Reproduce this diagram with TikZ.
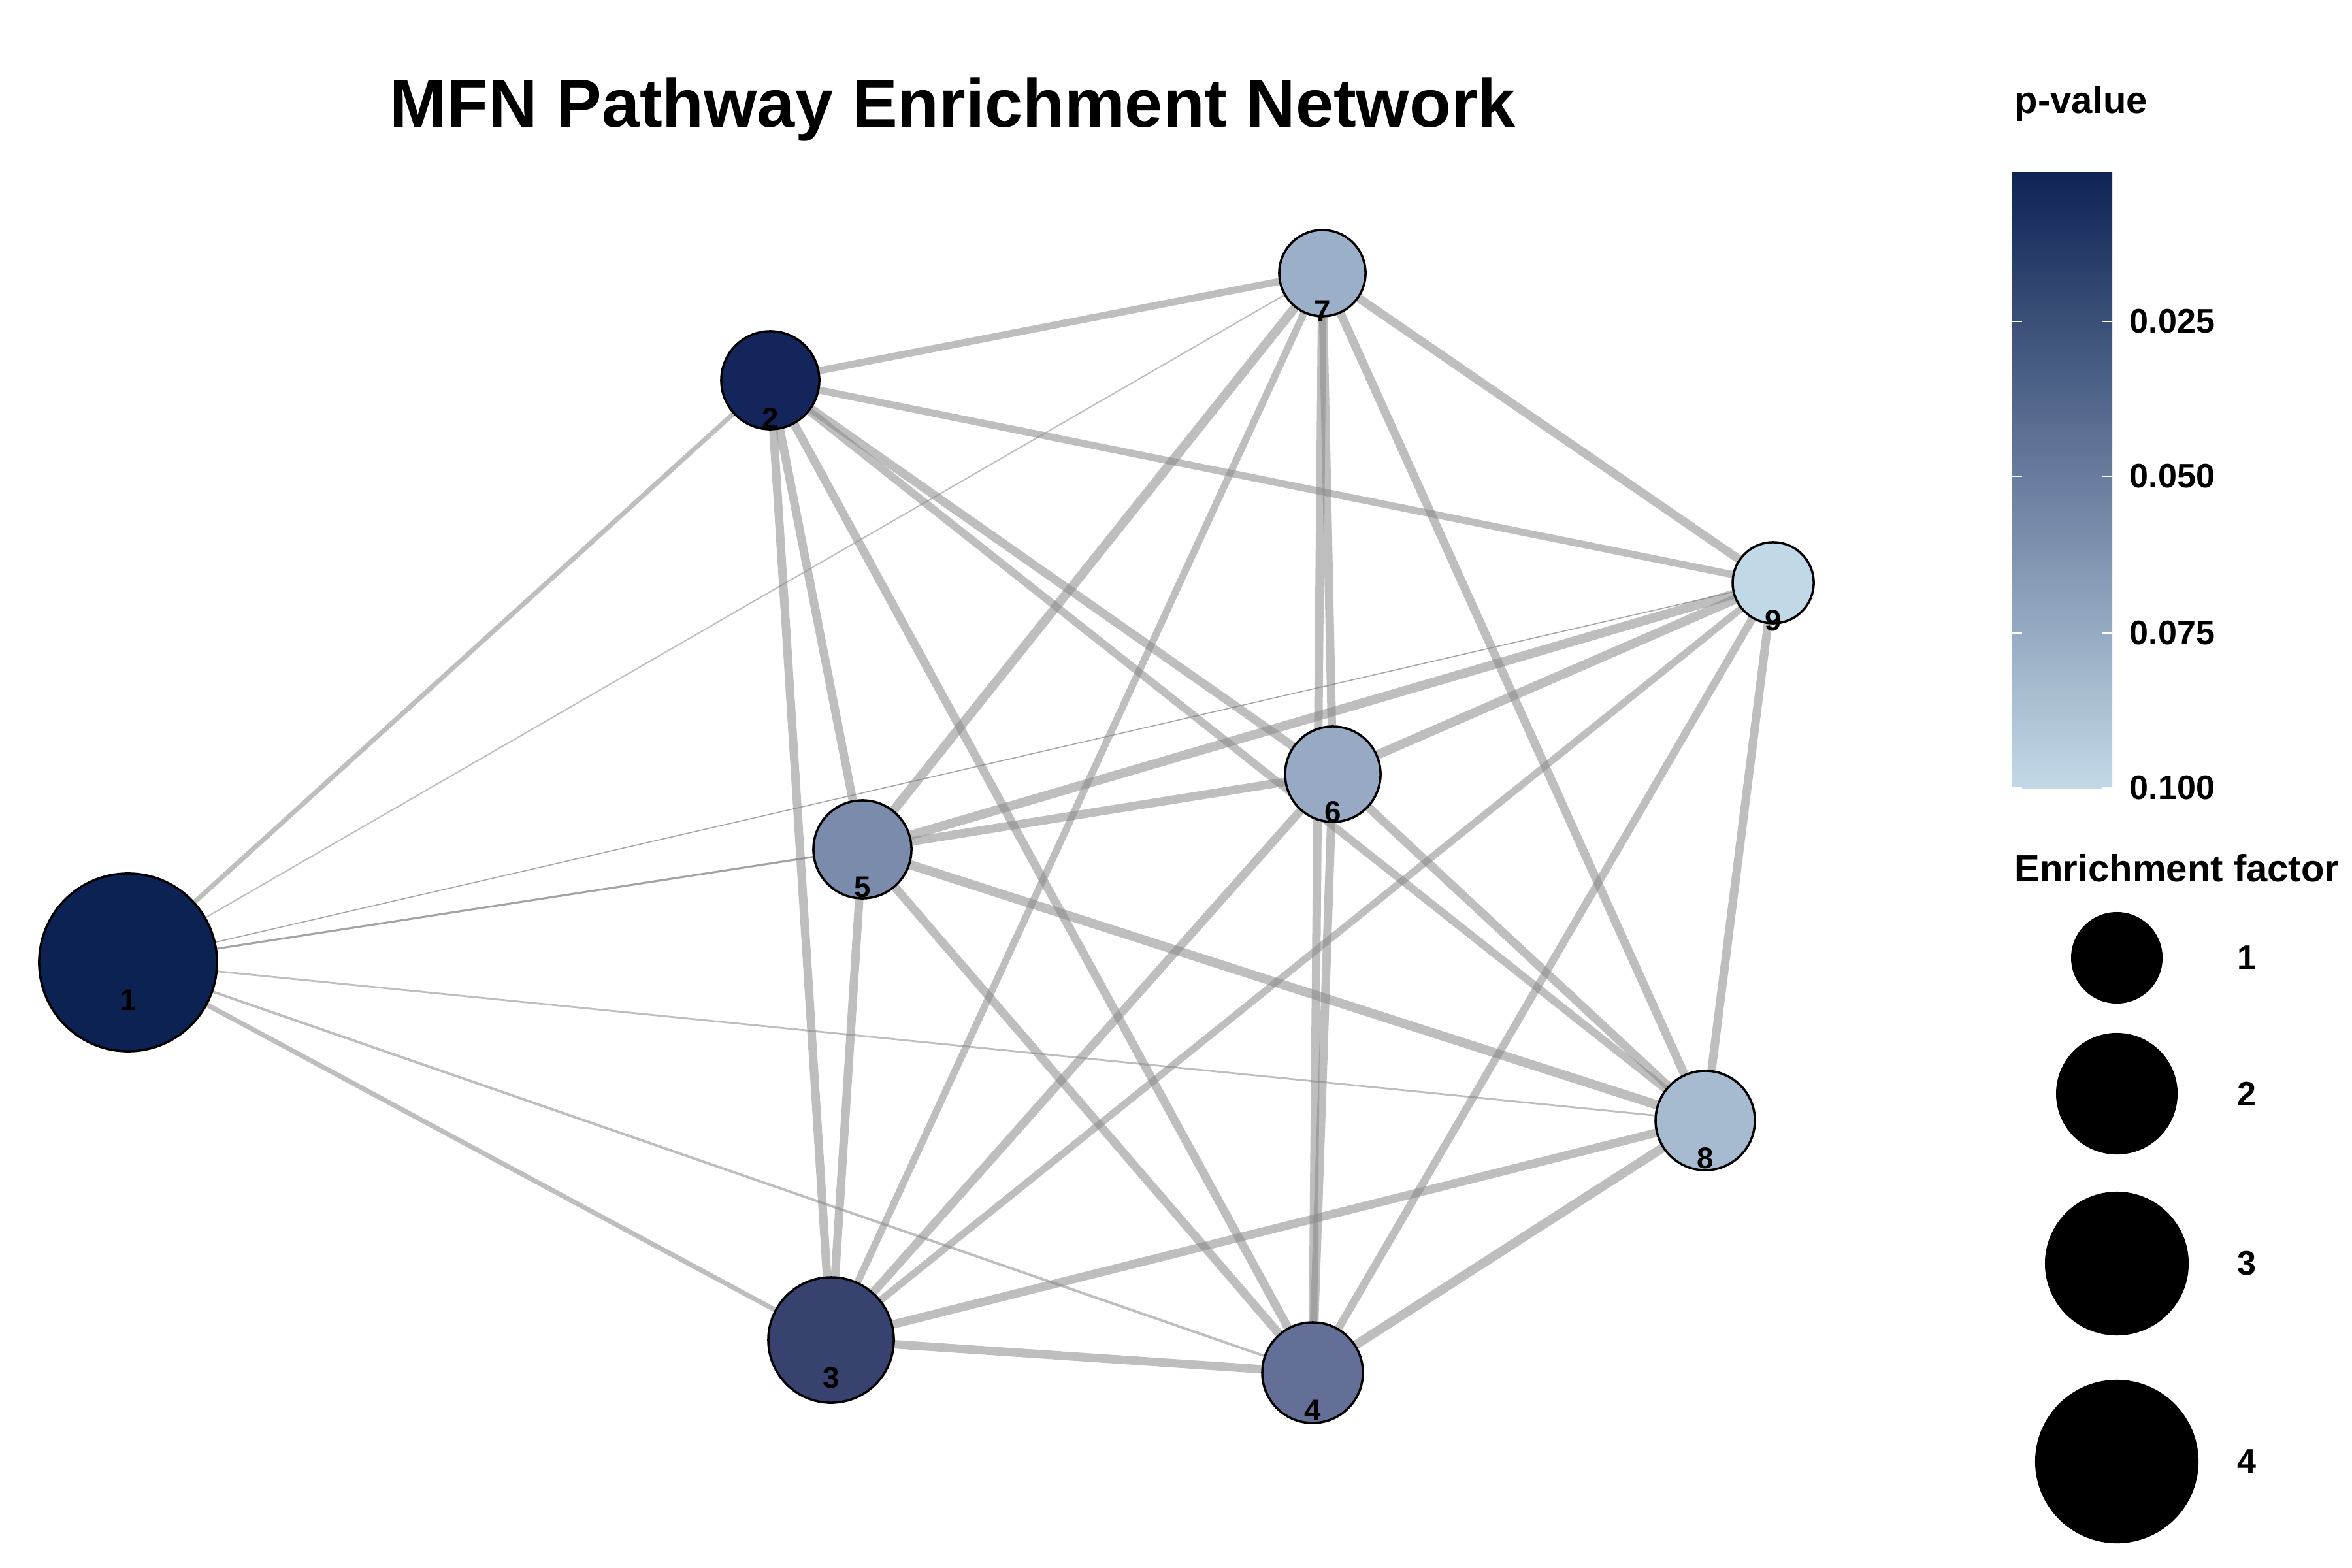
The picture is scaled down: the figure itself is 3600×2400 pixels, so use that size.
\documentclass[tikz,border=0pt]{standalone}
\usepackage{fontspec}
\setmainfont{Liberation Sans}
\usetikzlibrary{backgrounds}

\definecolor{pA}{HTML}{0C2252}
\definecolor{pB}{HTML}{13255A}
\definecolor{pC}{HTML}{37426F}
\definecolor{pD}{HTML}{636F97}
\definecolor{pE}{HTML}{7B8BAC}
\definecolor{pF}{HTML}{97A9C3}
\definecolor{pG}{HTML}{9CAFC8}
\definecolor{pH}{HTML}{A6BAD0}
\definecolor{pI}{HTML}{C1D8E6}
\definecolor{bartop}{HTML}{0F2355}
\definecolor{barmid}{HTML}{5F6B93}
\definecolor{barbot}{HTML}{C3D9E7}
\definecolor{edgegray}{RGB}{134,134,134}

\begin{document}
\begin{tikzpicture}
[x=0.01cm,y=-0.01cm,
 pw/.style={circle,draw=black,line width=1pt,inner sep=0pt,minimum size=#1},
 nlab/.style={font=\bfseries\fontsize{13}{13}\selectfont,yshift=-0.58cm,inner sep=0pt},
 ln/.style={draw=edgegray,draw opacity=.54,line width=#1},
 lgd/.style={font=\bfseries\fontsize{14.8}{14.8}\selectfont,inner sep=0pt}]
\useasboundingbox (0,0) rectangle (3600,2400);

\node[font=\bfseries\fontsize{29.7}{29.7}\selectfont,anchor=base] (title) at (1458,195) {MFN Pathway Enrichment Network};

% pathway nodes
\node[pw=2.72cm,fill=pA,label={[nlab]center:1}] (n1) at (196,1473) {};
\node[pw=1.50cm,fill=pB,label={[nlab]center:2}] (n2) at (1179,582) {};
\node[pw=1.92cm,fill=pC,label={[nlab]center:3}] (n3) at (1272,2051) {};
\node[pw=1.54cm,fill=pD,label={[nlab]center:4}] (n4) at (2009,2101) {};
\node[pw=1.50cm,fill=pE,label={[nlab]center:5}] (n5) at (1320,1300) {};
\node[pw=1.46cm,fill=pF,label={[nlab]center:6}] (n6) at (2040,1185) {};
\node[pw=1.32cm,fill=pG,label={[nlab]center:7}] (n7) at (2024,418) {};
\node[pw=1.52cm,fill=pH,label={[nlab]center:8}] (n8) at (2610,1715) {};
\node[pw=1.24cm,fill=pI,label={[nlab]center:9}] (n9) at (2714,892) {};

\begin{pgfonlayer}{background}
\foreach \from/\to/\w in {n1/n2/2.1pt,n1/n3/2.1pt,n1/n4/1.1pt,n1/n7/0.6pt,n1/n8/0.8pt,
  n2/n3/3.7pt,n2/n4/3.7pt,n2/n5/3.7pt,n2/n6/3.7pt,n2/n7/3.1pt,n2/n8/3.4pt,n2/n9/3.1pt,
  n3/n4/3.7pt,n3/n5/3.7pt,n3/n6/3.7pt,n3/n7/3.1pt,n3/n8/3.7pt,n3/n9/3.1pt,
  n4/n5/3.7pt,n4/n6/3.7pt,n4/n7/3.7pt,n4/n8/4pt,n4/n9/3.4pt,
  n5/n6/3.7pt,n5/n7/4pt,n5/n8/4pt,n5/n9/4pt,
  n6/n7/3.7pt,n6/n8/3.7pt,n6/n9/4pt,n7/n8/3.7pt,n7/n9/3.7pt,n8/n9/3.7pt}
\draw[ln=\w] (\from) -- (\to);
\draw[ln=0.9pt,draw opacity=.75] (n1) -- (n5);
\draw[ln=0.45pt,draw opacity=.75] (n1) -- (n9);
\end{pgfonlayer}

% p-value legend
\node[font=\bfseries\fontsize{16.5}{16.5}\selectfont,anchor=base west,inner sep=0pt] (ptitle) at (3083,173) {p-value};
\shade[top color=bartop,middle color=barmid,bottom color=barbot] (3080,263) rectangle (3233,1206);
\foreach \ty/\tl in {492/0.025,729/0.050,969/0.075,1206/0.100}{
  \draw[white,line width=0.4pt] (3080,\ty) -- (3095,\ty) (3218,\ty) -- (3233,\ty);
  \node[lgd,anchor=west] (t\ty) at (3259,\ty) {\tl};
}

% enrichment legend
\node[font=\bfseries\fontsize{16.5}{16.5}\selectfont,anchor=base west,inner sep=0pt] (etitle) at (3083,1349) {Enrichment factor};
\foreach \sy/\sd/\sl in {1466/1.40cm/1,1674/1.86cm/2,1934/2.20cm/3,2237/2.50cm/4}{
  \node[circle,fill=black,inner sep=0pt,minimum size=\sd] (s\sl) at (3240,\sy) {};
  \node[lgd] (sl\sl) at (3439,\sy) {\sl};
}
\end{tikzpicture}
\end{document}
